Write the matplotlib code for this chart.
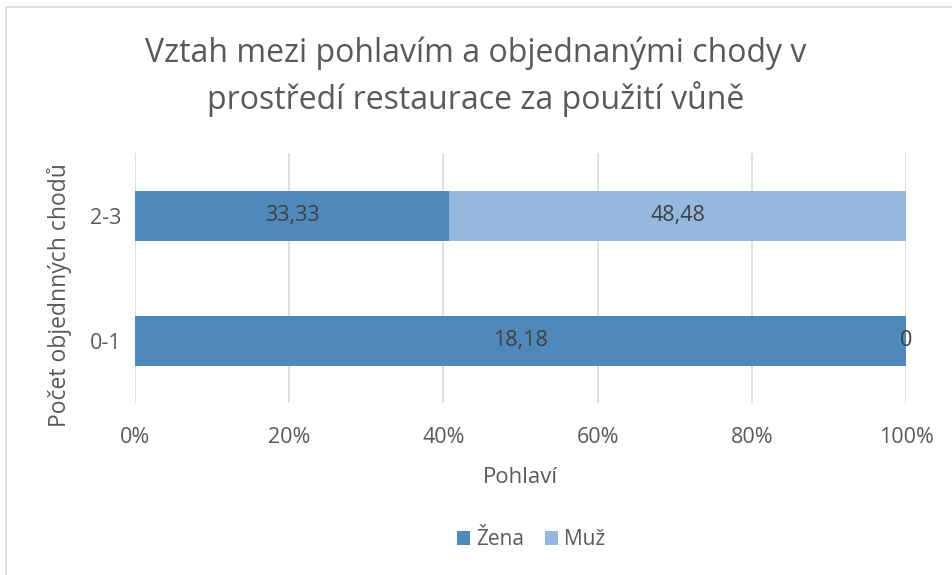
import numpy as np
import matplotlib.pyplot as plt
from matplotlib.patches import Rectangle

categories = ["0-1", "2-3"]
zena = [18.18, 33.33]
muz = [0.0, 48.48]
zena_labels = ["18,18", "33,33"]
muz_labels = ["0", "48,48"]
xticks = [0, 20, 40, 60, 80, 100]

plt.rcParams['font.family'] = ['Open Sans', 'DejaVu Sans']
TXT = '#595959'
C_ZENA = '#4F88BB'
C_MUZ = '#95B8DF'

fig = plt.figure(figsize=(9.52, 5.75), dpi=100)
ax = fig.add_axes([0.1418, 0.2991, 0.81, 0.4348])

z = np.array(zena)
m = np.array(muz)
tot = z + m
zp = z / tot * 100
mp = m / tot * 100
y = np.arange(len(categories))

ax.barh(y, zp, height=0.4, color=C_ZENA, label='Žena', zorder=3)
ax.barh(y, mp, left=zp, height=0.4, color=C_MUZ, label='Muž', zorder=3)

for i in range(len(categories)):
    ax.text(zp[i] / 2, y[i], zena_labels[i], ha='center', va='center',
            fontsize=15.5, color='#404040', zorder=4)
    ax.text(zp[i] + mp[i] / 2, y[i], muz_labels[i], ha='center', va='center',
            fontsize=15.5, color='#404040', zorder=4)

ax.set_xlim(0, 100)
ax.set_ylim(-0.5, 1.5)
ax.set_xticks(xticks)
ax.set_xticklabels([f"{t}%" for t in xticks])
ax.set_yticks(y)
ax.set_yticklabels(categories)
ax.tick_params(axis='both', length=0, labelsize=15.5, colors=TXT)
ax.tick_params(axis='x', pad=17)
ax.tick_params(axis='y', pad=10)
ax.grid(axis='x', color='#D9D9D9', linewidth=1.2, zorder=0)
for s in ax.spines.values():
    s.set_visible(False)

ax.set_xlabel('Pohlaví', fontsize=16, color=TXT, labelpad=14)
ax.set_ylabel('Počet objednných chodů', fontsize=16.5, color=TXT)
ax.yaxis.set_label_coords(-0.082, 0.43)

fig.text(0.5, 0.866, 'Vztah mezi pohlavím a objednanými chody v\nprostředí restaurace za použití vůně',
         ha='center', va='center', fontsize=23, color=TXT, linespacing=1.4)

ax.legend(loc='center', bbox_to_anchor=(0.558, 0.061), bbox_transform=fig.transFigure,
          ncol=2, frameon=False, fontsize=15, labelcolor=TXT,
          handlelength=0.6, handleheight=0.6, handletextpad=0.3, columnspacing=1.0)

fig.patches.append(Rectangle((6 / 952, -0.1), 1.1, 1 - 7 / 575 + 0.1, transform=fig.transFigure,
                             fill=False, edgecolor='#D9D9D9', linewidth=1.2))

fig.savefig('out.png', dpi=100)
